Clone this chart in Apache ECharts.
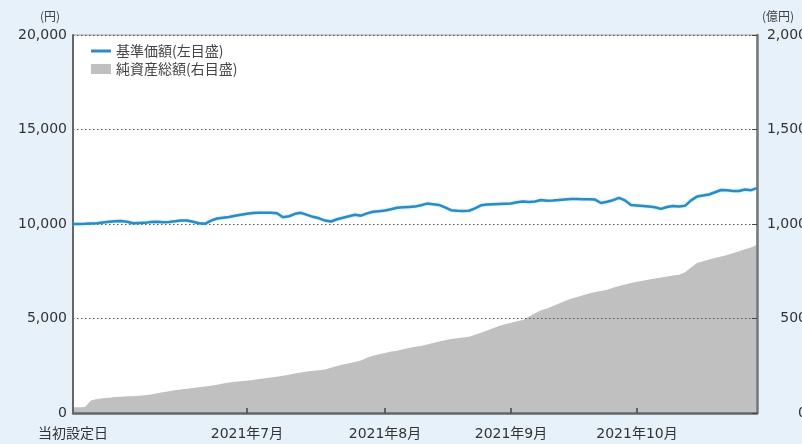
<!DOCTYPE html>
<html>
<head>
<meta charset="utf-8">
<script src="https://cdn.jsdelivr.net/npm/echarts@6/dist/echarts.min.js"></script>
<style>
html,body{margin:0;padding:0;background:#e7f1f9;overflow:hidden;}
#c{width:802px;height:444px;}
</style>
</head>
<body>
<div id="c"></div>
<script>
// 基準価額 (円), one value per business-day step from 当初設定日
const nav = [
10000,10000,10010,10030,10040,10080,10120,10150,10160,10120,
10040,10050,10060,10100,10120,10090,10100,10140,10190,10180,
10120,10040,10010,10180,10290,10330,10370,10440,10490,10540,
10580,10600,10600,10590,10570,10360,10410,10540,10590,10480,
10380,10300,10180,10130,10250,10330,10410,10490,10440,10560,
10650,10680,10710,10780,10860,10880,10900,10920,10990,11080,
11050,11010,10880,10730,10700,10690,10700,10830,10990,11030,
11050,11060,11070,11080,11150,11190,11160,11190,11270,11230,
11240,11270,11300,11320,11320,11310,11310,11290,11110,11180,
11260,11380,11250,11000,10980,10950,10920,10890,10800,10900,
10950,10930,10960,11250,11450,11510,11560,11680,11800,11780,
11740,11750,11830,11790,11900
];
// 純資産総額 (億円)
const netAssets = [
30,30,32,66,74,78,81,84,86,88,
89,91,94,98,104,110,115,120,124,128,
132,136,140,144,150,156,161,165,168,171,
175,180,184,188,192,197,203,209,214,219,
223,226,230,240,249,256,263,270,278,292,
303,311,318,325,330,337,344,350,355,362,
370,378,385,391,396,400,404,414,425,436,
448,460,470,478,485,492,510,528,543,553,
566,580,592,604,614,623,632,640,646,652,
663,672,680,688,695,700,706,712,717,722,
727,731,745,770,793,803,812,820,828,836,
845,856,866,876,890
];
const categories = nav.map((_, i) => String(i));
const tickIndex = [0, 29, 52, 73, 94];
const tickLabels = ['当初設定日', '2021年7月', '2021年8月', '2021年9月', '2021年10月'];
const leftTicks = [0, 5000, 10000, 15000, 20000];
const rightTicks = [0, 500, 1000, 1500, 2000];
const seriesNames = ['基準価額(左目盛)', '純資産総額(右目盛)'];

const fnt = '"DejaVu Sans","Noto Sans CJK JP",sans-serif';
const fmt = v => Number(v).toLocaleString('en-US');

const chart = echarts.init(document.getElementById('c'));
chart.setOption({
  backgroundColor: '#e7f1f9',
  animation: false,
  textStyle: {fontFamily: fnt},
  grid: {left: 73, right: 45, top: 35, bottom: 31, show: true, backgroundColor: '#ffffff', borderColor: '#a0a0a0', borderWidth: 1, containLabel: false, outerBoundsMode: 'none'},
  legend: {
    orient: 'vertical', left: 86, top: 39, itemWidth: 20, itemHeight: 10, itemGap: 4,
    textStyle: {fontSize: 14, color: '#444', fontFamily: '"Noto Sans CJK JP",sans-serif'},
    data: [
      {name: seriesNames[0], icon: 'path://M0,0 L20,0 L20,3 L0,3 Z', symbolKeepAspect: true},
      {name: seriesNames[1], icon: 'rect'}
    ]
  },
  graphic: [
    {type: 'text', left: 40, top: 10, style: {text: '(円)', font: '12px "Noto Sans CJK JP",sans-serif', fill: '#444'}},
    {type: 'text', left: 762, top: 10, style: {text: '(億円)', font: '12px "Noto Sans CJK JP",sans-serif', fill: '#444'}}
  ],
  xAxis: {
    type: 'category', data: categories, boundaryGap: false, z: 3,
    axisLine: {lineStyle: {color: '#666', width: 2.5}},
    axisTick: {show: true, inside: true, length: 5, lineStyle: {color: '#444', width: 1.5},
      interval: (i) => tickIndex.indexOf(i) > 0},
    axisLabel: {
      interval: (i) => tickIndex.includes(i),
      formatter: (v) => tickLabels[tickIndex.indexOf(Number(v))] || '',
      margin: 14, fontSize: 14, color: '#333', fontFamily: fnt
    },
    splitLine: {show: false}
  },
  yAxis: [
    {
      type: 'value', min: leftTicks[0], max: leftTicks[leftTicks.length - 1], interval: 5000, z: 3,
      axisLine: {show: true, lineStyle: {color: '#666', width: 2}},
      axisTick: {show: false},
      axisLabel: {formatter: fmt, fontSize: 14, color: '#333', margin: 6, fontFamily: fnt},
      splitLine: {show: true, lineStyle: {color: '#555', type: [1.5, 2.5], width: 1.2}}
    },
    {
      type: 'value', min: rightTicks[0], max: rightTicks[rightTicks.length - 1], interval: 500,
      position: 'right', z: 3,
      axisLine: {show: true, lineStyle: {color: '#777', width: 2.5}},
      axisTick: {show: true, inside: true, length: 5, lineStyle: {color: '#444'}},
      axisLabel: {formatter: fmt, fontSize: 14, color: '#333', margin: 50, align: 'right', fontFamily: fnt},
      splitLine: {show: false}
    }
  ],
  series: [
    {
      name: seriesNames[1], type: 'line', yAxisIndex: 1, data: netAssets, z: 1,
      symbol: 'none', showSymbol: false, color: '#c0c0c0',
      lineStyle: {width: 0, color: '#c0c0c0'},
      areaStyle: {color: '#c0c0c0', opacity: 1}
    },
    {
      name: seriesNames[0], type: 'line', yAxisIndex: 0, data: nav, z: 5,
      symbol: 'none', showSymbol: false, color: '#2b8cc4',
      lineStyle: {width: 2.5, color: '#2b8cc4', shadowColor: 'rgba(90,190,230,0.6)', shadowBlur: 2}
    }
  ]
});
</script>
</body>
</html>
